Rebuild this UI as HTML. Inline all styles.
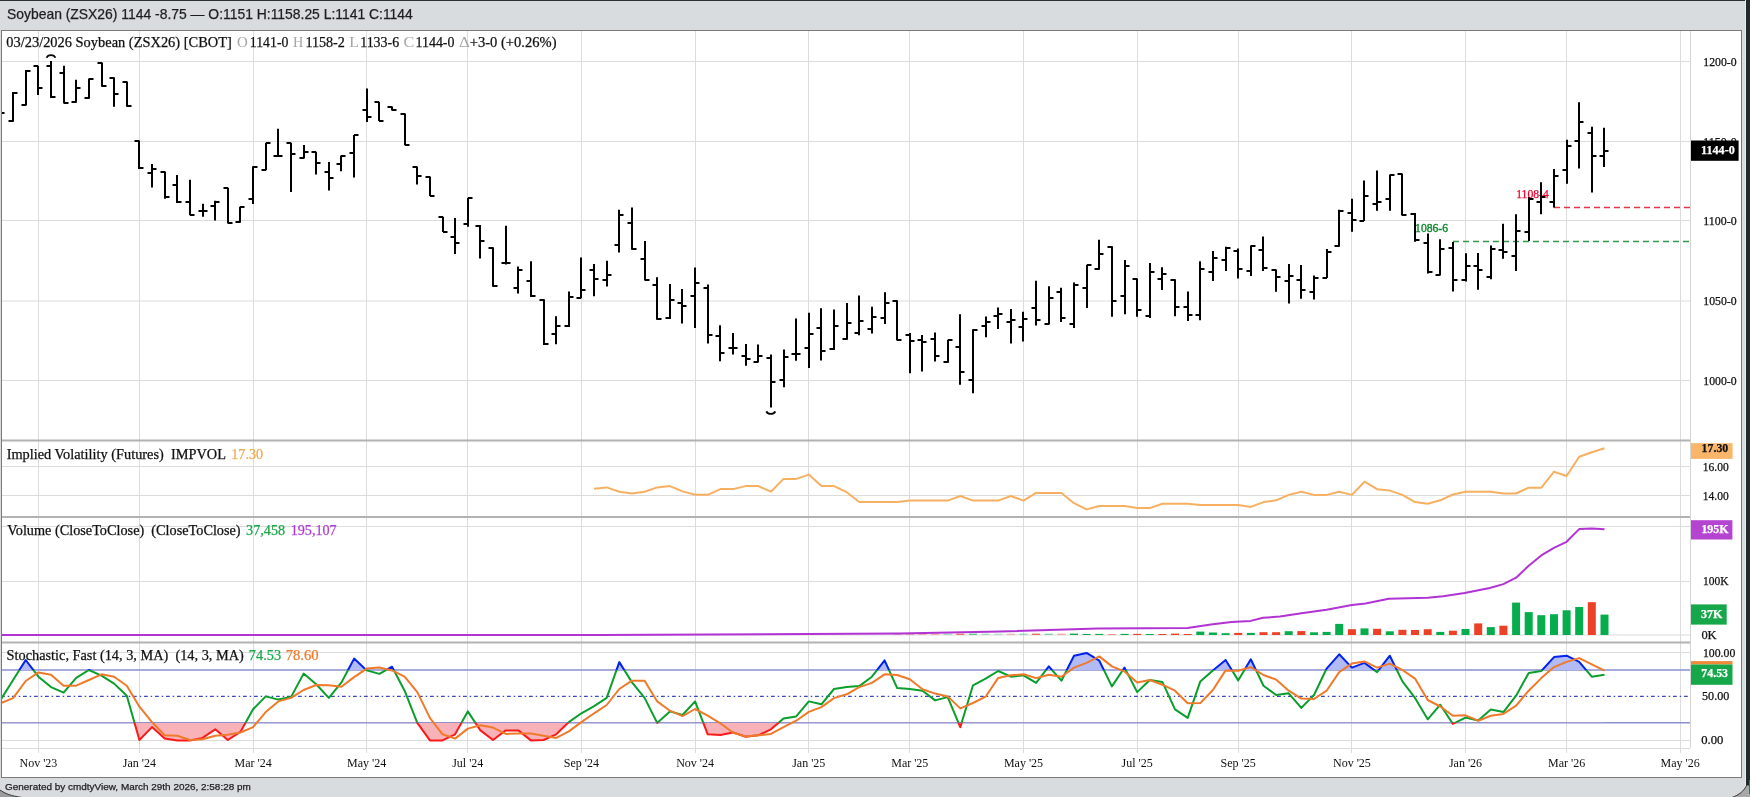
<!DOCTYPE html>
<html><head><meta charset="utf-8"><style>
html,body{margin:0;padding:0;width:1750px;height:797px;overflow:hidden;background:#d9dcdf}
svg{display:block;will-change:transform}
</style></head><body>
<svg width="1750" height="797" viewBox="0 0 1750 797">
<rect x="0" y="0" width="1750" height="797" fill="#d9dcdf"/>
<rect x="0" y="0" width="1750" height="1" fill="#2b3033"/>
<rect x="1745" y="0" width="1" height="797" fill="#e9ebed"/>
<rect x="1746" y="0" width="4" height="797" fill="#232a2d"/>
<path d="M0 790 C5 793.5 11 796 22 797.5 L0 797.5 Z" fill="#9c9c9c"/>
<path d="M0 790 C5 793.5 11 796 22 797.5" fill="none" stroke="#333" stroke-width="1"/>
<path d="M1746.5 785.5 C1744 791 1739 795 1732 797.5 L1750 797.5 L1750 785.5 Z" fill="#a8a8a8"/>
<path d="M1746.5 785.5 C1744 791 1739 795 1732 797.5" fill="none" stroke="#333" stroke-width="1"/>
<rect x="1749" y="780" width="1" height="14" fill="#1a8a3a"/>
<rect x="1.5" y="30.5" width="1740" height="747" fill="#ffffff" stroke="#7a7a7a" stroke-width="1"/>
<line x1="38.5" y1="31" x2="38.5" y2="753" stroke="#dcdcdc" stroke-width="1"/>
<line x1="139.5" y1="31" x2="139.5" y2="753" stroke="#dcdcdc" stroke-width="1"/>
<line x1="253.5" y1="31" x2="253.5" y2="753" stroke="#dcdcdc" stroke-width="1"/>
<line x1="366.5" y1="31" x2="366.5" y2="753" stroke="#dcdcdc" stroke-width="1"/>
<line x1="467.5" y1="31" x2="467.5" y2="753" stroke="#dcdcdc" stroke-width="1"/>
<line x1="581.5" y1="31" x2="581.5" y2="753" stroke="#dcdcdc" stroke-width="1"/>
<line x1="695.5" y1="31" x2="695.5" y2="753" stroke="#dcdcdc" stroke-width="1"/>
<line x1="808.5" y1="31" x2="808.5" y2="753" stroke="#dcdcdc" stroke-width="1"/>
<line x1="909.5" y1="31" x2="909.5" y2="753" stroke="#dcdcdc" stroke-width="1"/>
<line x1="1023.5" y1="31" x2="1023.5" y2="753" stroke="#dcdcdc" stroke-width="1"/>
<line x1="1137.5" y1="31" x2="1137.5" y2="753" stroke="#dcdcdc" stroke-width="1"/>
<line x1="1238.5" y1="31" x2="1238.5" y2="753" stroke="#dcdcdc" stroke-width="1"/>
<line x1="1351.5" y1="31" x2="1351.5" y2="753" stroke="#dcdcdc" stroke-width="1"/>
<line x1="1465.5" y1="31" x2="1465.5" y2="753" stroke="#dcdcdc" stroke-width="1"/>
<line x1="1566.5" y1="31" x2="1566.5" y2="753" stroke="#dcdcdc" stroke-width="1"/>
<line x1="1680.5" y1="31" x2="1680.5" y2="753" stroke="#dcdcdc" stroke-width="1"/>
<line x1="1690.5" y1="31" x2="1690.5" y2="748" stroke="#d4d4d4" stroke-width="1"/>
<line x1="2" y1="61.5" x2="1690" y2="61.5" stroke="#dcdcdc" stroke-width="1"/>
<line x1="2" y1="141.5" x2="1690" y2="141.5" stroke="#dcdcdc" stroke-width="1"/>
<line x1="2" y1="220.5" x2="1690" y2="220.5" stroke="#dcdcdc" stroke-width="1"/>
<line x1="2" y1="301" x2="1690" y2="301" stroke="#dcdcdc" stroke-width="1"/>
<line x1="2" y1="380.5" x2="1690" y2="380.5" stroke="#dcdcdc" stroke-width="1"/>
<line x1="2" y1="466.5" x2="1690" y2="466.5" stroke="#dcdcdc" stroke-width="1"/>
<line x1="2" y1="495.5" x2="1690" y2="495.5" stroke="#dcdcdc" stroke-width="1"/>
<line x1="2" y1="526.5" x2="1690" y2="526.5" stroke="#dcdcdc" stroke-width="1"/>
<line x1="2" y1="581.5" x2="1690" y2="581.5" stroke="#dcdcdc" stroke-width="1"/>
<line x1="2" y1="652.5" x2="1690" y2="652.5" stroke="#dcdcdc" stroke-width="1"/>
<line x1="2" y1="740.5" x2="1690" y2="740.5" stroke="#dcdcdc" stroke-width="1"/>
<line x1="2" y1="748.5" x2="1690" y2="748.5" stroke="#dcdcdc" stroke-width="1"/>
<line x1="2" y1="635" x2="1690" y2="635" stroke="#dcdcdc" stroke-width="1"/>
<line x1="2" y1="440.5" x2="1690" y2="440.5" stroke="#b2b2b2" stroke-width="2"/>
<line x1="2" y1="517" x2="1690" y2="517" stroke="#b2b2b2" stroke-width="2"/>
<line x1="2" y1="642.5" x2="1690" y2="642.5" stroke="#b2b2b2" stroke-width="2"/>
<line x1="1554" y1="207.5" x2="1690" y2="207.5" stroke="#e8344a" stroke-width="1.3" stroke-dasharray="6,4"/>
<line x1="1453" y1="241.5" x2="1690" y2="241.5" stroke="#2f9a4a" stroke-width="1.3" stroke-dasharray="6,4"/>
<text x="1516.2" y="197.9" font-family='"Liberation Serif", serif' font-size="11.6" fill="#f5002a" stroke="#f5002a" stroke-width="0.25" textLength="32.6" lengthAdjust="spacingAndGlyphs">1108-4</text>
<text x="1415.1" y="232.1" font-family='"Liberation Serif", serif' font-size="11.6" fill="#0b8a2b" stroke="#0b8a2b" stroke-width="0.35" textLength="32.9" lengthAdjust="spacingAndGlyphs">1086-6</text>
<g clip-path="url(#cp)"><path d="M0 105.5V118.5M-4.5 113H0M0 113H4.5M13 92.1V121.7M8.5 121H13M13 93H17.5M26 70.1V105.4M21.5 105H26M26 71H30.5M38 65.7V94.9M33.5 66H38M38 88H42.5M51 60.9V97.9M46.5 66H51M51 97H55.5M64 65.7V103.6M59.5 73H64M64 103H68.5M76 79.8V102.8M71.5 102H76M76 88H80.5M89 78.5V98.8M84.5 98H89M89 79H93.5M102 62.5V86.7M97.5 63H102M102 86H106.5M114 77.2V106.7M109.5 78H114M114 94H118.5M127 81.6V106.7M122.5 82H127M127 106H131.5M139 140.6V169.0M134.5 141H139M139 168H143.5M152 163.9V187.5M147.5 173H152M152 169H156.5M165 171.4V198.8M160.5 172H165M165 197H169.5M177 174.9V203.0M172.5 185H177M177 202H181.5M190 179.7V215.3M185.5 202H190M190 215H194.5M203 203.8V216.8M198.5 211H203M203 211H207.5M215 200.8V220.6M210.5 206H215M215 202H219.5M228 187.7V223.6M223.5 188H228M228 223H232.5M240 206.8V222.8M235.5 222H240M240 207H244.5M253 166.2V204.0M248.5 199H253M253 167H257.5M266 142.8V170.2M261.5 170H266M266 143H270.5M278 128.8V156.6M273.5 156H278M278 156H282.5M291 142.7V191.9M286.5 143H291M291 154H295.5M304 145.0V158.5M299.5 158H304M304 152H308.5M316 151.7V174.5M311.5 152H316M316 163H320.5M329 162.0V190.4M324.5 172H329M329 178H333.5M341 155.5V171.3M336.5 164H341M341 156H345.5M354 134.9V177.6M349.5 153H354M354 135H358.5M367 88.5V121.9M362.5 110H367M367 117H371.5M379 101.8V121.1M374.5 102H379M379 121H383.5M392 106.6V110.6M387.5 107H392M392 110H396.5M405 113.4V145.2M400.5 114H405M405 145H409.5M417 166.5V184.4M412.5 167H417M417 176H421.5M430 176.6V196.1M425.5 177H430M430 196H434.5M443 216.8V232.0M438.5 217H443M443 232H447.5M455 217.9V253.9M450.5 237H455M455 243H459.5M468 198.0V226.8M463.5 224H468M468 198H472.5M480 225.1V258.5M475.5 226H480M480 241H484.5M493 247.3V286.7M488.5 248H493M493 286H497.5M506 225.8V264.5M501.5 263H506M506 263H510.5M518 266.5V293.5M513.5 288H518M518 270H522.5M531 261.3V296.9M526.5 281H531M531 296H535.5M544 299.3V345.0M539.5 300H544M544 344H548.5M556 316.2V344.3M551.5 334H556M556 326H560.5M569 291.4V326.9M564.5 326H569M569 297H573.5M581 257.4V298.3M576.5 298H581M581 290H585.5M594 264.1V296.3M589.5 270H594M594 279H598.5M607 260.7V286.5M602.5 280H607M607 275H611.5M619 209.8V252.6M614.5 245H619M619 215H623.5M632 207.6V249.7M627.5 223H632M632 249H636.5M645 241.0V280.5M640.5 259H645M645 280H649.5M657 277.2V319.8M652.5 285H657M657 319H661.5M670 284.0V318.9M665.5 318H670M670 300H674.5M682 288.9V323.4M677.5 303H682M682 306H686.5M695 267.5V327.9M690.5 296H695M695 283H699.5M708 284.5V343.6M703.5 288H708M708 335H712.5M720 325.2V361.2M715.5 336H720M720 353H724.5M733 333.1V354.5M728.5 348H733M733 348H737.5M746 344.0V365.8M741.5 356H746M746 359H750.5M758 344.4V362.4M753.5 362H758M758 356H762.5M771 354.6V407.6M766.5 358H771M771 382H775.5M784 349.4V387.2M779.5 380H784M784 357H788.5M796 318.4V360.8M791.5 354H796M796 354H800.5M809 312.8V368.0M804.5 348H809M809 334H813.5M821 308.3V360.5M816.5 328H821M821 351H825.5M834 309.4V349.9M829.5 349H834M834 326H838.5M847 302.9V339.7M842.5 339H847M847 323H851.5M859 295.5V335.2M854.5 333H859M859 321H863.5M872 306.8V333.4M867.5 329H872M872 317H876.5M885 292.3V324.1M880.5 318H885M885 303H889.5M897 300.3V340.5M892.5 301H897M897 340H901.5M910 333.1V373.3M905.5 335H910M910 341H914.5M922 334.9V371.5M917.5 340H922M922 342H926.5M935 332.4V361.5M930.5 339H935M935 356H939.5M948 339.8V362.8M943.5 362H948M948 340H952.5M960 314.3V384.7M955.5 347H960M960 372H964.5M973 329.3V393.2M968.5 380H973M973 330H977.5M986 316.6V337.3M981.5 326H986M986 322H990.5M998 307.4V329.1M993.5 316H998M998 314H1002.5M1011 309.1V343.5M1006.5 322H1011M1011 320H1015.5M1023 311.8V341.4M1018.5 327H1023M1023 319H1027.5M1036 280.7V325.6M1031.5 308H1036M1036 320H1040.5M1049 286.3V324.5M1044.5 324H1049M1049 298H1053.5M1061 287.7V322.1M1056.5 292H1061M1061 318H1065.5M1074 282.4V328.1M1069.5 324H1074M1074 285H1078.5M1087 264.8V308.0M1082.5 288H1087M1087 265H1091.5M1099 239.7V269.7M1094.5 269H1099M1099 254H1103.5M1112 246.2V316.8M1107.5 247H1112M1112 301H1116.5M1125 260.1V314.3M1120.5 296H1125M1125 266H1129.5M1137 278.4V316.8M1132.5 279H1137M1137 310H1141.5M1150 263.1V318.0M1145.5 316H1150M1150 272H1154.5M1162 267.3V289.9M1157.5 279H1162M1162 274H1166.5M1175 279.3V316.3M1170.5 280H1175M1175 307H1179.5M1188 291.6V321.0M1183.5 307H1188M1188 315H1192.5M1200 261.3V320.3M1195.5 315H1200M1200 269H1204.5M1213 251.1V281.1M1208.5 272H1213M1213 258H1217.5M1226 246.7V271.1M1221.5 260H1226M1226 248H1230.5M1238 248.5V278.5M1233.5 251H1238M1238 269H1242.5M1251 245.5V275.9M1246.5 271H1251M1251 246H1255.5M1263 236.5V271.0M1258.5 250H1263M1263 268H1267.5M1276 269.6V291.8M1271.5 270H1276M1276 277H1280.5M1289 263.9V303.5M1284.5 281H1289M1289 276H1293.5M1301 264.9V298.7M1296.5 280H1301M1301 290H1305.5M1314 275.6V299.5M1309.5 292H1314M1314 278H1318.5M1327 248.9V278.0M1322.5 278H1327M1327 252H1331.5M1339 209.7V246.8M1334.5 246H1339M1339 211H1343.5M1352 198.7V231.8M1347.5 213H1352M1352 220H1356.5M1364 180.6V221.1M1359.5 221H1364M1364 196H1368.5M1377 170.5V210.7M1372.5 204H1377M1377 202H1381.5M1390 174.6V210.7M1385.5 199H1390M1390 175H1394.5M1402 173.6V215.5M1397.5 174H1402M1402 215H1406.5M1415 213.1V241.7M1410.5 214H1415M1415 240H1419.5M1428 233.6V273.6M1423.5 243H1428M1428 272H1432.5M1440 239.3V275.4M1435.5 275H1440M1440 249H1444.5M1453 241.9V291.6M1448.5 248H1453M1453 280H1457.5M1466 253.3V281.6M1461.5 280H1466M1466 266H1470.5M1478 253.0V289.8M1473.5 266H1478M1478 270H1482.5M1491 245.4V279.3M1486.5 277H1491M1491 249H1495.5M1503 223.8V258.7M1498.5 250H1503M1503 252H1507.5M1516 214.3V271.0M1511.5 256H1516M1516 231H1520.5M1529 197.1V241.1M1524.5 232H1529M1529 199H1533.5M1541 182.3V214.2M1536.5 202H1541M1541 197H1545.5M1554 169.1V207.6M1549.5 202H1554M1554 176H1558.5M1567 139.7V183.8M1562.5 170H1567M1567 146H1571.5M1579 102.2V168.4M1574.5 141H1579M1579 122H1583.5M1592 126.7V192.4M1587.5 133H1592M1592 156H1596.5M1604 127.8V167.1M1599.5 156H1604M1604 151H1608.5" stroke="#000" stroke-width="2" fill="none"/></g>
<defs><clipPath id="cp"><rect x="2" y="31" width="1688" height="409"/></clipPath></defs>
<path d="M46.6 57.8 A4.6 3.9 0 0 1 55.4 57.8" stroke="#000" stroke-width="1.8" fill="none"/>
<path d="M766.4 411.3 A4.6 3.6 0 0 0 775.2 411.3" stroke="#000" stroke-width="1.9" fill="none"/>
<polyline points="594.1,488.8 606.7,487.4 619.3,491.7 632.0,493.4 644.6,491.7 657.2,487.4 669.9,486.1 682.5,491.4 695.1,494.8 707.7,494.8 720.4,489.1 733.0,489.1 745.6,486.1 758.3,486.1 770.9,491.7 783.5,478.9 796.2,478.9 808.8,474.6 821.4,486.1 834.0,486.1 846.7,492.2 859.3,502.0 871.9,502.0 884.6,502.0 897.2,502.0 909.8,500.6 922.5,500.6 935.1,500.6 947.7,500.6 960.3,496.0 973.0,500.6 985.6,500.6 998.2,500.6 1010.9,496.0 1023.5,500.6 1036.1,492.9 1048.8,492.9 1061.4,492.9 1074.0,503.2 1086.6,509.4 1099.3,506.0 1111.9,506.0 1124.5,506.0 1137.2,507.9 1149.8,508.1 1162.4,503.8 1175.0,503.8 1187.7,503.8 1200.3,505.1 1212.9,505.1 1225.6,505.1 1238.2,505.1 1250.8,506.9 1263.5,502.1 1276.1,500.3 1288.7,494.9 1301.3,491.8 1314.0,494.9 1326.6,494.9 1339.2,491.8 1351.9,494.9 1364.5,481.7 1377.1,489.2 1389.8,490.6 1402.4,494.9 1415.0,502.1 1427.7,503.8 1440.3,500.3 1452.9,494.5 1465.5,491.8 1478.2,491.8 1490.8,491.8 1503.4,493.5 1516.1,493.5 1528.7,487.7 1541.3,487.7 1554.0,471.7 1566.6,476.0 1579.2,456.8 1591.8,452.3 1604.5,448.2" fill="none" stroke="#f7b062" stroke-width="2" stroke-linejoin="round"/>
<rect x="1070.0" y="633.6" width="8" height="1.4" fill="#06ad4c"/>
<rect x="1082.6" y="634.0" width="8" height="1.0" fill="#06ad4c"/>
<rect x="1095.3" y="633.9" width="8" height="1.1" fill="#06ad4c"/>
<rect x="1107.9" y="634.5" width="8" height="0.5" fill="#ec4127"/>
<rect x="1120.5" y="633.9" width="8" height="1.1" fill="#06ad4c"/>
<rect x="1133.2" y="633.9" width="8" height="1.1" fill="#ec4127"/>
<rect x="1145.8" y="634.0" width="8" height="1.0" fill="#06ad4c"/>
<rect x="1158.4" y="634.0" width="8" height="1.0" fill="#ec4127"/>
<rect x="1171.0" y="633.6" width="8" height="1.4" fill="#ec4127"/>
<rect x="1183.7" y="634.0" width="8" height="1.0" fill="#ec4127"/>
<rect x="1196.3" y="631.6" width="8" height="3.4" fill="#06ad4c"/>
<rect x="1208.9" y="632.5" width="8" height="2.5" fill="#06ad4c"/>
<rect x="1221.6" y="633.2" width="8" height="1.8" fill="#06ad4c"/>
<rect x="1234.2" y="632.9" width="8" height="2.1" fill="#ec4127"/>
<rect x="1246.8" y="632.9" width="8" height="2.1" fill="#06ad4c"/>
<rect x="1259.5" y="632.2" width="8" height="2.8" fill="#ec4127"/>
<rect x="1272.1" y="632.2" width="8" height="2.8" fill="#ec4127"/>
<rect x="1284.7" y="631.2" width="8" height="3.8" fill="#06ad4c"/>
<rect x="1297.3" y="631.1" width="8" height="3.9" fill="#ec4127"/>
<rect x="1310.0" y="632.3" width="8" height="2.7" fill="#06ad4c"/>
<rect x="1322.6" y="631.9" width="8" height="3.1" fill="#06ad4c"/>
<rect x="1335.2" y="623.9" width="8" height="11.1" fill="#06ad4c"/>
<rect x="1347.9" y="629.2" width="8" height="5.8" fill="#ec4127"/>
<rect x="1360.5" y="628.4" width="8" height="6.6" fill="#06ad4c"/>
<rect x="1373.1" y="628.8" width="8" height="6.2" fill="#ec4127"/>
<rect x="1385.8" y="631.3" width="8" height="3.7" fill="#06ad4c"/>
<rect x="1398.4" y="629.8" width="8" height="5.2" fill="#ec4127"/>
<rect x="1411.0" y="630.0" width="8" height="5.0" fill="#ec4127"/>
<rect x="1423.7" y="629.2" width="8" height="5.8" fill="#ec4127"/>
<rect x="1436.3" y="631.9" width="8" height="3.1" fill="#06ad4c"/>
<rect x="1448.9" y="630.7" width="8" height="4.3" fill="#ec4127"/>
<rect x="1461.5" y="629.0" width="8" height="6.0" fill="#06ad4c"/>
<rect x="1474.2" y="623.4" width="8" height="11.6" fill="#ec4127"/>
<rect x="1486.8" y="627.1" width="8" height="7.9" fill="#06ad4c"/>
<rect x="1499.4" y="625.7" width="8" height="9.3" fill="#ec4127"/>
<rect x="1512.1" y="602.6" width="8" height="32.4" fill="#06ad4c"/>
<rect x="1524.7" y="612.1" width="8" height="22.9" fill="#06ad4c"/>
<rect x="1537.3" y="615.2" width="8" height="19.8" fill="#06ad4c"/>
<rect x="1550.0" y="614.2" width="8" height="20.8" fill="#06ad4c"/>
<rect x="1562.6" y="610.3" width="8" height="24.7" fill="#06ad4c"/>
<rect x="1575.2" y="607.0" width="8" height="28.0" fill="#06ad4c"/>
<rect x="1587.8" y="602.2" width="8" height="32.8" fill="#ec4127"/>
<rect x="1600.5" y="614.6" width="8" height="20.4" fill="#06ad4c"/>
<rect x="893.2" y="633.6" width="8" height="1.4" fill="#ec4127" fill-opacity="0.3"/>
<rect x="905.8" y="633.6" width="8" height="1.4" fill="#ec4127" fill-opacity="0.35"/>
<rect x="918.5" y="633.6" width="8" height="1.4" fill="#ec4127" fill-opacity="0.35"/>
<rect x="931.1" y="633.6" width="8" height="1.4" fill="#ec4127" fill-opacity="0.35"/>
<rect x="943.7" y="633.6" width="8" height="1.4" fill="#06ad4c" fill-opacity="0.3"/>
<rect x="956.3" y="633.6" width="8" height="1.4" fill="#ec4127" fill-opacity="0.7"/>
<rect x="969.0" y="633.6" width="8" height="1.4" fill="#06ad4c" fill-opacity="0.6"/>
<rect x="981.6" y="633.6" width="8" height="1.4" fill="#06ad4c" fill-opacity="0.3"/>
<rect x="994.2" y="633.6" width="8" height="1.4" fill="#06ad4c" fill-opacity="0.25"/>
<rect x="1006.9" y="633.6" width="8" height="1.4" fill="#ec4127" fill-opacity="0.3"/>
<rect x="1019.5" y="633.6" width="8" height="1.4" fill="#06ad4c" fill-opacity="0.35"/>
<rect x="1032.1" y="633.6" width="8" height="1.4" fill="#ec4127" fill-opacity="0.75"/>
<rect x="1044.8" y="633.6" width="8" height="1.4" fill="#06ad4c" fill-opacity="0.45"/>
<rect x="1057.4" y="633.6" width="8" height="1.4" fill="#ec4127" fill-opacity="0.4"/>
<polyline points="2.0,635.0 600.0,634.9 900.0,633.5 1000.0,631.5 1098.0,628.4 1187.6,628.1 1210.9,624.4 1231.5,622.0 1250.7,620.9 1263.0,617.8 1280.0,616.6 1301.4,613.3 1326.6,609.8 1351.9,604.9 1365.5,603.5 1388.8,598.7 1427.7,597.7 1443.2,596.2 1464.6,592.9 1489.8,588.0 1503.4,584.1 1516.1,577.7 1528.7,565.7 1541.3,555.4 1553.9,547.8 1566.6,541.8 1579.2,529.1 1591.8,528.4 1604.5,529.3" fill="none" stroke="#b233d3" stroke-width="2" stroke-linejoin="round"/>
<line x1="2" y1="670.0" x2="1690" y2="670.0" stroke="#8a8fd0" stroke-width="1.5"/>
<line x1="2" y1="722.8" x2="1690" y2="722.8" stroke="#8a8fd0" stroke-width="1.5"/>
<line x1="2" y1="696.4" x2="1690" y2="696.4" stroke="#3c4bbb" stroke-width="1.4" stroke-dasharray="3.8,2.9,1.5,2.8" stroke-dashoffset="1"/>
<defs><clipPath id="cTop"><rect x="2" y="640" width="1688" height="30.0"/></clipPath><clipPath id="cBot"><rect x="2" y="722.8" width="1688" height="27.200000000000045"/></clipPath><clipPath id="cMid"><rect x="2" y="670.0" width="1688" height="52.799999999999955"/></clipPath><clipPath id="cSt"><rect x="2" y="643" width="1688" height="110"/></clipPath></defs>
<g clip-path="url(#cSt)">
<polygon points="0.5,670.0 0.5,700.0 13.1,680.0 25.7,660.0 38.4,676.7 51.0,687.1 63.6,692.6 76.2,677.9 88.9,670.0 101.5,675.7 114.1,683.6 126.8,695.7 139.4,740.0 152.0,727.1 164.7,738.6 177.3,740.4 189.9,740.4 202.5,737.9 215.2,729.3 227.8,740.0 240.4,731.9 253.1,709.3 265.7,696.4 278.3,699.6 291.0,697.1 303.6,673.6 316.2,684.3 328.8,697.9 341.5,682.4 354.1,658.6 366.7,670.4 379.4,673.9 392.0,666.7 404.6,690.7 417.3,722.9 429.9,740.4 442.5,740.4 455.1,734.3 467.8,711.4 480.4,730.4 493.0,740.0 505.7,730.4 518.3,730.4 530.9,740.4 543.6,740.0 556.2,734.3 568.8,722.1 581.4,713.3 594.1,706.1 606.7,697.9 619.3,662.1 632.0,682.4 644.6,697.9 657.2,722.9 669.9,711.4 682.5,715.0 695.1,701.4 707.7,734.3 720.4,735.0 733.0,732.4 745.6,736.7 758.3,735.3 770.9,729.3 783.5,718.6 796.2,716.4 808.8,701.4 821.4,704.3 834.0,689.0 846.7,687.1 859.3,686.1 871.9,676.7 884.6,660.4 897.2,688.1 909.8,689.0 922.5,690.7 935.1,700.4 947.7,697.1 960.3,727.1 973.0,685.3 985.6,678.6 998.2,671.0 1010.9,676.7 1023.5,675.3 1036.1,682.9 1048.8,666.4 1061.4,680.7 1074.0,655.7 1086.6,652.9 1099.3,660.7 1111.9,686.4 1124.5,667.6 1137.2,692.1 1149.8,680.0 1162.4,681.9 1175.0,709.3 1187.7,717.9 1200.3,681.4 1212.9,670.4 1225.6,660.0 1238.2,680.4 1250.8,659.3 1263.5,685.7 1276.1,695.0 1288.7,693.3 1301.3,707.9 1314.0,695.0 1326.6,668.6 1339.2,654.3 1351.9,667.6 1364.5,662.9 1377.1,672.1 1389.8,655.7 1402.4,681.4 1415.0,697.9 1427.7,719.3 1440.3,704.7 1452.9,723.9 1465.5,717.6 1478.2,720.4 1490.8,709.6 1503.4,712.1 1516.1,695.7 1528.7,672.9 1541.3,671.0 1554.0,657.1 1566.6,655.7 1579.2,661.9 1591.8,676.7 1604.5,674.7 1604.5,670.0" fill="#b3bbf6" clip-path="url(#cTop)"/>
<polygon points="0.5,722.8 0.5,700.0 13.1,680.0 25.7,660.0 38.4,676.7 51.0,687.1 63.6,692.6 76.2,677.9 88.9,670.0 101.5,675.7 114.1,683.6 126.8,695.7 139.4,740.0 152.0,727.1 164.7,738.6 177.3,740.4 189.9,740.4 202.5,737.9 215.2,729.3 227.8,740.0 240.4,731.9 253.1,709.3 265.7,696.4 278.3,699.6 291.0,697.1 303.6,673.6 316.2,684.3 328.8,697.9 341.5,682.4 354.1,658.6 366.7,670.4 379.4,673.9 392.0,666.7 404.6,690.7 417.3,722.9 429.9,740.4 442.5,740.4 455.1,734.3 467.8,711.4 480.4,730.4 493.0,740.0 505.7,730.4 518.3,730.4 530.9,740.4 543.6,740.0 556.2,734.3 568.8,722.1 581.4,713.3 594.1,706.1 606.7,697.9 619.3,662.1 632.0,682.4 644.6,697.9 657.2,722.9 669.9,711.4 682.5,715.0 695.1,701.4 707.7,734.3 720.4,735.0 733.0,732.4 745.6,736.7 758.3,735.3 770.9,729.3 783.5,718.6 796.2,716.4 808.8,701.4 821.4,704.3 834.0,689.0 846.7,687.1 859.3,686.1 871.9,676.7 884.6,660.4 897.2,688.1 909.8,689.0 922.5,690.7 935.1,700.4 947.7,697.1 960.3,727.1 973.0,685.3 985.6,678.6 998.2,671.0 1010.9,676.7 1023.5,675.3 1036.1,682.9 1048.8,666.4 1061.4,680.7 1074.0,655.7 1086.6,652.9 1099.3,660.7 1111.9,686.4 1124.5,667.6 1137.2,692.1 1149.8,680.0 1162.4,681.9 1175.0,709.3 1187.7,717.9 1200.3,681.4 1212.9,670.4 1225.6,660.0 1238.2,680.4 1250.8,659.3 1263.5,685.7 1276.1,695.0 1288.7,693.3 1301.3,707.9 1314.0,695.0 1326.6,668.6 1339.2,654.3 1351.9,667.6 1364.5,662.9 1377.1,672.1 1389.8,655.7 1402.4,681.4 1415.0,697.9 1427.7,719.3 1440.3,704.7 1452.9,723.9 1465.5,717.6 1478.2,720.4 1490.8,709.6 1503.4,712.1 1516.1,695.7 1528.7,672.9 1541.3,671.0 1554.0,657.1 1566.6,655.7 1579.2,661.9 1591.8,676.7 1604.5,674.7 1604.5,722.8" fill="#f9b3b8" clip-path="url(#cBot)"/>
<polyline points="0.5,700.0 13.1,680.0 25.7,660.0 38.4,676.7 51.0,687.1 63.6,692.6 76.2,677.9 88.9,670.0 101.5,675.7 114.1,683.6 126.8,695.7 139.4,740.0 152.0,727.1 164.7,738.6 177.3,740.4 189.9,740.4 202.5,737.9 215.2,729.3 227.8,740.0 240.4,731.9 253.1,709.3 265.7,696.4 278.3,699.6 291.0,697.1 303.6,673.6 316.2,684.3 328.8,697.9 341.5,682.4 354.1,658.6 366.7,670.4 379.4,673.9 392.0,666.7 404.6,690.7 417.3,722.9 429.9,740.4 442.5,740.4 455.1,734.3 467.8,711.4 480.4,730.4 493.0,740.0 505.7,730.4 518.3,730.4 530.9,740.4 543.6,740.0 556.2,734.3 568.8,722.1 581.4,713.3 594.1,706.1 606.7,697.9 619.3,662.1 632.0,682.4 644.6,697.9 657.2,722.9 669.9,711.4 682.5,715.0 695.1,701.4 707.7,734.3 720.4,735.0 733.0,732.4 745.6,736.7 758.3,735.3 770.9,729.3 783.5,718.6 796.2,716.4 808.8,701.4 821.4,704.3 834.0,689.0 846.7,687.1 859.3,686.1 871.9,676.7 884.6,660.4 897.2,688.1 909.8,689.0 922.5,690.7 935.1,700.4 947.7,697.1 960.3,727.1 973.0,685.3 985.6,678.6 998.2,671.0 1010.9,676.7 1023.5,675.3 1036.1,682.9 1048.8,666.4 1061.4,680.7 1074.0,655.7 1086.6,652.9 1099.3,660.7 1111.9,686.4 1124.5,667.6 1137.2,692.1 1149.8,680.0 1162.4,681.9 1175.0,709.3 1187.7,717.9 1200.3,681.4 1212.9,670.4 1225.6,660.0 1238.2,680.4 1250.8,659.3 1263.5,685.7 1276.1,695.0 1288.7,693.3 1301.3,707.9 1314.0,695.0 1326.6,668.6 1339.2,654.3 1351.9,667.6 1364.5,662.9 1377.1,672.1 1389.8,655.7 1402.4,681.4 1415.0,697.9 1427.7,719.3 1440.3,704.7 1452.9,723.9 1465.5,717.6 1478.2,720.4 1490.8,709.6 1503.4,712.1 1516.1,695.7 1528.7,672.9 1541.3,671.0 1554.0,657.1 1566.6,655.7 1579.2,661.9 1591.8,676.7 1604.5,674.7" fill="none" stroke="#0a9f2c" stroke-width="2" stroke-linejoin="round" clip-path="url(#cMid)"/>
<polyline points="0.5,700.0 13.1,680.0 25.7,660.0 38.4,676.7 51.0,687.1 63.6,692.6 76.2,677.9 88.9,670.0 101.5,675.7 114.1,683.6 126.8,695.7 139.4,740.0 152.0,727.1 164.7,738.6 177.3,740.4 189.9,740.4 202.5,737.9 215.2,729.3 227.8,740.0 240.4,731.9 253.1,709.3 265.7,696.4 278.3,699.6 291.0,697.1 303.6,673.6 316.2,684.3 328.8,697.9 341.5,682.4 354.1,658.6 366.7,670.4 379.4,673.9 392.0,666.7 404.6,690.7 417.3,722.9 429.9,740.4 442.5,740.4 455.1,734.3 467.8,711.4 480.4,730.4 493.0,740.0 505.7,730.4 518.3,730.4 530.9,740.4 543.6,740.0 556.2,734.3 568.8,722.1 581.4,713.3 594.1,706.1 606.7,697.9 619.3,662.1 632.0,682.4 644.6,697.9 657.2,722.9 669.9,711.4 682.5,715.0 695.1,701.4 707.7,734.3 720.4,735.0 733.0,732.4 745.6,736.7 758.3,735.3 770.9,729.3 783.5,718.6 796.2,716.4 808.8,701.4 821.4,704.3 834.0,689.0 846.7,687.1 859.3,686.1 871.9,676.7 884.6,660.4 897.2,688.1 909.8,689.0 922.5,690.7 935.1,700.4 947.7,697.1 960.3,727.1 973.0,685.3 985.6,678.6 998.2,671.0 1010.9,676.7 1023.5,675.3 1036.1,682.9 1048.8,666.4 1061.4,680.7 1074.0,655.7 1086.6,652.9 1099.3,660.7 1111.9,686.4 1124.5,667.6 1137.2,692.1 1149.8,680.0 1162.4,681.9 1175.0,709.3 1187.7,717.9 1200.3,681.4 1212.9,670.4 1225.6,660.0 1238.2,680.4 1250.8,659.3 1263.5,685.7 1276.1,695.0 1288.7,693.3 1301.3,707.9 1314.0,695.0 1326.6,668.6 1339.2,654.3 1351.9,667.6 1364.5,662.9 1377.1,672.1 1389.8,655.7 1402.4,681.4 1415.0,697.9 1427.7,719.3 1440.3,704.7 1452.9,723.9 1465.5,717.6 1478.2,720.4 1490.8,709.6 1503.4,712.1 1516.1,695.7 1528.7,672.9 1541.3,671.0 1554.0,657.1 1566.6,655.7 1579.2,661.9 1591.8,676.7 1604.5,674.7" fill="none" stroke="#0022ee" stroke-width="2" stroke-linejoin="round" clip-path="url(#cTop)"/>
<polyline points="0.5,700.0 13.1,680.0 25.7,660.0 38.4,676.7 51.0,687.1 63.6,692.6 76.2,677.9 88.9,670.0 101.5,675.7 114.1,683.6 126.8,695.7 139.4,740.0 152.0,727.1 164.7,738.6 177.3,740.4 189.9,740.4 202.5,737.9 215.2,729.3 227.8,740.0 240.4,731.9 253.1,709.3 265.7,696.4 278.3,699.6 291.0,697.1 303.6,673.6 316.2,684.3 328.8,697.9 341.5,682.4 354.1,658.6 366.7,670.4 379.4,673.9 392.0,666.7 404.6,690.7 417.3,722.9 429.9,740.4 442.5,740.4 455.1,734.3 467.8,711.4 480.4,730.4 493.0,740.0 505.7,730.4 518.3,730.4 530.9,740.4 543.6,740.0 556.2,734.3 568.8,722.1 581.4,713.3 594.1,706.1 606.7,697.9 619.3,662.1 632.0,682.4 644.6,697.9 657.2,722.9 669.9,711.4 682.5,715.0 695.1,701.4 707.7,734.3 720.4,735.0 733.0,732.4 745.6,736.7 758.3,735.3 770.9,729.3 783.5,718.6 796.2,716.4 808.8,701.4 821.4,704.3 834.0,689.0 846.7,687.1 859.3,686.1 871.9,676.7 884.6,660.4 897.2,688.1 909.8,689.0 922.5,690.7 935.1,700.4 947.7,697.1 960.3,727.1 973.0,685.3 985.6,678.6 998.2,671.0 1010.9,676.7 1023.5,675.3 1036.1,682.9 1048.8,666.4 1061.4,680.7 1074.0,655.7 1086.6,652.9 1099.3,660.7 1111.9,686.4 1124.5,667.6 1137.2,692.1 1149.8,680.0 1162.4,681.9 1175.0,709.3 1187.7,717.9 1200.3,681.4 1212.9,670.4 1225.6,660.0 1238.2,680.4 1250.8,659.3 1263.5,685.7 1276.1,695.0 1288.7,693.3 1301.3,707.9 1314.0,695.0 1326.6,668.6 1339.2,654.3 1351.9,667.6 1364.5,662.9 1377.1,672.1 1389.8,655.7 1402.4,681.4 1415.0,697.9 1427.7,719.3 1440.3,704.7 1452.9,723.9 1465.5,717.6 1478.2,720.4 1490.8,709.6 1503.4,712.1 1516.1,695.7 1528.7,672.9 1541.3,671.0 1554.0,657.1 1566.6,655.7 1579.2,661.9 1591.8,676.7 1604.5,674.7" fill="none" stroke="#fa1a1a" stroke-width="2" stroke-linejoin="round" clip-path="url(#cBot)"/>
<polyline points="0.5,703.3 13.1,698.1 25.7,681.0 38.4,672.4 51.0,674.7 63.6,685.7 76.2,685.7 88.9,680.0 101.5,674.3 114.1,676.7 126.8,685.7 139.4,706.7 152.0,722.1 164.7,735.3 177.3,735.7 189.9,740.0 202.5,739.3 215.2,735.7 227.8,734.7 240.4,732.5 253.1,727.1 265.7,712.1 278.3,701.4 291.0,697.9 303.6,690.0 316.2,685.0 328.8,685.3 341.5,686.7 354.1,677.1 366.7,668.6 379.4,667.6 392.0,670.4 404.6,676.7 417.3,692.1 429.9,717.9 442.5,734.3 455.1,738.6 467.8,728.6 480.4,725.3 493.0,727.6 505.7,733.9 518.3,733.6 530.9,733.6 543.6,735.7 556.2,737.9 568.8,731.4 581.4,722.1 594.1,713.3 606.7,705.0 619.3,689.0 632.0,680.7 644.6,680.7 657.2,701.4 669.9,710.7 682.5,716.1 695.1,709.0 707.7,715.7 720.4,723.3 733.0,732.8 745.6,736.4 758.3,735.3 770.9,733.9 783.5,727.1 796.2,720.7 808.8,711.9 821.4,707.1 834.0,698.1 846.7,694.3 859.3,687.1 871.9,682.9 884.6,674.3 897.2,675.0 909.8,679.3 922.5,689.3 935.1,693.6 947.7,696.4 960.3,708.4 973.0,703.0 985.6,696.7 998.2,677.9 1010.9,675.3 1023.5,674.3 1036.1,678.1 1048.8,674.7 1061.4,676.7 1074.0,667.6 1086.6,662.9 1099.3,656.4 1111.9,666.4 1124.5,671.4 1137.2,682.4 1149.8,680.0 1162.4,684.7 1175.0,690.7 1187.7,703.3 1200.3,703.1 1212.9,690.0 1225.6,670.4 1238.2,670.7 1250.8,667.1 1263.5,675.0 1276.1,679.6 1288.7,690.7 1301.3,698.6 1314.0,699.0 1326.6,690.7 1339.2,672.1 1351.9,663.6 1364.5,661.4 1377.1,667.6 1389.8,663.6 1402.4,670.0 1415.0,678.6 1427.7,700.0 1440.3,706.5 1452.9,715.7 1465.5,715.3 1478.2,720.7 1490.8,715.7 1503.4,713.9 1516.1,705.7 1528.7,690.7 1541.3,678.1 1554.0,667.1 1566.6,661.9 1579.2,658.1 1591.8,664.3 1604.5,670.7" fill="none" stroke="#ef7a2a" stroke-width="2" stroke-linejoin="round"/>
</g>
<text x="7.0" y="18.9" font-family='"Liberation Sans", sans-serif' font-size="13.9" fill="#1e1e1e" stroke="#1e1e1e" stroke-width="0.25" textLength="405.8" lengthAdjust="spacingAndGlyphs" xml:space="preserve">Soybean (ZSX26) 1144 -8.75 — O:1151 H:1158.25 L:1141 C:1144</text>
<text x="6.3" y="46.9" font-family='"Liberation Serif", serif' font-size="14.6" fill="#111" stroke="#111" stroke-width="0.25" textLength="225.5" lengthAdjust="spacingAndGlyphs" xml:space="preserve">03/23/2026 Soybean (ZSX26) [CBOT]</text>
<text x="236.9" y="46.9" font-family='"Liberation Serif", serif' font-size="14.6" fill="#a4a4a4" textLength="10.8" lengthAdjust="spacingAndGlyphs" xml:space="preserve">O</text>
<text x="249.8" y="46.9" font-family='"Liberation Serif", serif' font-size="14.6" fill="#111" stroke="#111" stroke-width="0.25" textLength="38.6" lengthAdjust="spacingAndGlyphs" xml:space="preserve">1141-0</text>
<text x="293.0" y="46.9" font-family='"Liberation Serif", serif' font-size="14.6" fill="#a4a4a4" textLength="10.3" lengthAdjust="spacingAndGlyphs" xml:space="preserve">H</text>
<text x="305.4" y="46.9" font-family='"Liberation Serif", serif' font-size="14.6" fill="#111" stroke="#111" stroke-width="0.25" textLength="39.5" lengthAdjust="spacingAndGlyphs" xml:space="preserve">1158-2</text>
<text x="349.3" y="46.9" font-family='"Liberation Serif", serif' font-size="14.6" fill="#a4a4a4" textLength="9.7" lengthAdjust="spacingAndGlyphs" xml:space="preserve">L</text>
<text x="360.2" y="46.9" font-family='"Liberation Serif", serif' font-size="14.6" fill="#111" stroke="#111" stroke-width="0.25" textLength="39.0" lengthAdjust="spacingAndGlyphs" xml:space="preserve">1133-6</text>
<text x="403.6" y="46.9" font-family='"Liberation Serif", serif' font-size="14.6" fill="#a4a4a4" textLength="10.8" lengthAdjust="spacingAndGlyphs" xml:space="preserve">C</text>
<text x="415.5" y="46.9" font-family='"Liberation Serif", serif' font-size="14.6" fill="#111" stroke="#111" stroke-width="0.25" textLength="39.0" lengthAdjust="spacingAndGlyphs" xml:space="preserve">1144-0</text>
<text x="459.0" y="46.9" font-family='"Liberation Serif", serif' font-size="14.6" fill="#a4a4a4" textLength="10.8" lengthAdjust="spacingAndGlyphs" xml:space="preserve">Δ</text>
<text x="469.8" y="46.9" font-family='"Liberation Serif", serif' font-size="14.6" fill="#111" stroke="#111" stroke-width="0.25" textLength="86.7" lengthAdjust="spacingAndGlyphs" xml:space="preserve">+3-0 (+0.26%)</text>
<text x="1703.3" y="65.7" font-family='"Liberation Serif", serif' font-size="11.8" fill="#111" stroke="#111" stroke-width="0.25" textLength="33.3" lengthAdjust="spacingAndGlyphs" xml:space="preserve">1200-0</text>
<text x="1703.3" y="145.7" font-family='"Liberation Serif", serif' font-size="11.8" fill="#111" stroke="#111" stroke-width="0.25" textLength="33.3" lengthAdjust="spacingAndGlyphs" xml:space="preserve">1150-0</text>
<text x="1703.3" y="224.7" font-family='"Liberation Serif", serif' font-size="11.8" fill="#111" stroke="#111" stroke-width="0.25" textLength="33.3" lengthAdjust="spacingAndGlyphs" xml:space="preserve">1100-0</text>
<text x="1703.3" y="304.7" font-family='"Liberation Serif", serif' font-size="11.8" fill="#111" stroke="#111" stroke-width="0.25" textLength="33.3" lengthAdjust="spacingAndGlyphs" xml:space="preserve">1050-0</text>
<text x="1703.3" y="384.7" font-family='"Liberation Serif", serif' font-size="11.8" fill="#111" stroke="#111" stroke-width="0.25" textLength="33.3" lengthAdjust="spacingAndGlyphs" xml:space="preserve">1000-0</text>
<rect x="1691" y="140.5" width="47.6" height="20.3" fill="#000"/>
<text x="1701.1" y="153.9" font-family='"Liberation Serif", serif' font-size="12" fill="#fff" stroke="#fff" stroke-width="0.25" font-weight="bold" textLength="33.7" lengthAdjust="spacingAndGlyphs" xml:space="preserve">1144-0</text>
<text x="6.7" y="458.9" font-family='"Liberation Serif", serif' font-size="14.4" fill="#111" stroke="#111" stroke-width="0.25" textLength="219.2" lengthAdjust="spacingAndGlyphs" xml:space="preserve">Implied Volatility (Futures)  IMPVOL</text>
<text x="231.3" y="458.9" font-family='"Liberation Serif", serif' font-size="14.4" fill="#f5a84e" stroke="#f5a84e" stroke-width="0.25" textLength="31.8" lengthAdjust="spacingAndGlyphs" xml:space="preserve">17.30</text>
<rect x="1691" y="443.2" width="41.6" height="15.7" fill="#f9b66a"/>
<text x="1701.6" y="451.5" font-family='"Liberation Serif", serif' font-size="12" fill="#111" stroke="#111" stroke-width="0.25" font-weight="bold" textLength="26.7" lengthAdjust="spacingAndGlyphs" xml:space="preserve">17.30</text>
<text x="1702.8" y="470.9" font-family='"Liberation Serif", serif' font-size="11.8" fill="#111" stroke="#111" stroke-width="0.25" textLength="25.9" lengthAdjust="spacingAndGlyphs" xml:space="preserve">16.00</text>
<text x="1702.8" y="499.9" font-family='"Liberation Serif", serif' font-size="11.8" fill="#111" stroke="#111" stroke-width="0.25" textLength="25.9" lengthAdjust="spacingAndGlyphs" xml:space="preserve">14.00</text>
<text x="7.3" y="535.1" font-family='"Liberation Serif", serif' font-size="14.4" fill="#111" stroke="#111" stroke-width="0.25" textLength="233.3" lengthAdjust="spacingAndGlyphs" xml:space="preserve">Volume (CloseToClose)  (CloseToClose)</text>
<text x="246.1" y="535.1" font-family='"Liberation Serif", serif' font-size="14.4" fill="#18a848" stroke="#18a848" stroke-width="0.25" textLength="39.0" lengthAdjust="spacingAndGlyphs" xml:space="preserve">37,458</text>
<text x="290.7" y="535.1" font-family='"Liberation Serif", serif' font-size="14.4" fill="#b03cd8" stroke="#b03cd8" stroke-width="0.25" textLength="46.0" lengthAdjust="spacingAndGlyphs" xml:space="preserve">195,107</text>
<rect x="1691" y="520.2" width="41.4" height="19.3" fill="#b545d0"/>
<text x="1701.4" y="532.6" font-family='"Liberation Serif", serif' font-size="12" fill="#fff" stroke="#fff" stroke-width="0.25" font-weight="bold" textLength="27.1" lengthAdjust="spacingAndGlyphs" xml:space="preserve">195K</text>
<text x="1703.0" y="585.1" font-family='"Liberation Serif", serif' font-size="11.8" fill="#111" stroke="#111" stroke-width="0.25" textLength="25.5" lengthAdjust="spacingAndGlyphs" xml:space="preserve">100K</text>
<rect x="1691" y="604.4" width="35.7" height="20.2" fill="#16a74a"/>
<text x="1700.9" y="618.1" font-family='"Liberation Serif", serif' font-size="12" fill="#fff" stroke="#fff" stroke-width="0.25" font-weight="bold" textLength="21.5" lengthAdjust="spacingAndGlyphs" xml:space="preserve">37K</text>
<text x="1701.4" y="639.0" font-family='"Liberation Serif", serif' font-size="11.8" fill="#111" stroke="#111" stroke-width="0.25" textLength="15.2" lengthAdjust="spacingAndGlyphs" xml:space="preserve">0K</text>
<text x="6.6" y="660.4" font-family='"Liberation Serif", serif' font-size="14.4" fill="#111" stroke="#111" stroke-width="0.25" textLength="237.2" lengthAdjust="spacingAndGlyphs" xml:space="preserve">Stochastic, Fast (14, 3, MA)  (14, 3, MA)</text>
<text x="248.8" y="660.4" font-family='"Liberation Serif", serif' font-size="14.4" fill="#18a848" stroke="#18a848" stroke-width="0.25" textLength="32.3" lengthAdjust="spacingAndGlyphs" xml:space="preserve">74.53</text>
<text x="285.7" y="660.4" font-family='"Liberation Serif", serif' font-size="14.4" fill="#ef7a2a" stroke="#ef7a2a" stroke-width="0.25" textLength="33.0" lengthAdjust="spacingAndGlyphs" xml:space="preserve">78.60</text>
<text x="1703.0" y="656.6" font-family='"Liberation Serif", serif' font-size="11.8" fill="#111" stroke="#111" stroke-width="0.25" textLength="32.3" lengthAdjust="spacingAndGlyphs" xml:space="preserve">100.00</text>
<rect x="1691" y="661.1" width="41.5" height="3.4" fill="#ef8a3a"/>
<rect x="1691" y="664.5" width="41.5" height="20.3" fill="#16a74a"/>
<text x="1701.3" y="677.3" font-family='"Liberation Serif", serif' font-size="12" fill="#fff" stroke="#fff" stroke-width="0.25" font-weight="bold" textLength="26.7" lengthAdjust="spacingAndGlyphs" xml:space="preserve">74.53</text>
<text x="1702.0" y="700.3" font-family='"Liberation Serif", serif' font-size="11.8" fill="#111" stroke="#111" stroke-width="0.25" textLength="27.3" lengthAdjust="spacingAndGlyphs" xml:space="preserve">50.00</text>
<text x="1701.3" y="743.8" font-family='"Liberation Serif", serif' font-size="11.8" fill="#111" stroke="#111" stroke-width="0.25" textLength="22.1" lengthAdjust="spacingAndGlyphs" xml:space="preserve">0.00</text>
<text x="38.4" y="766.8" text-anchor="middle" font-family='"Liberation Serif", serif' font-size="12" fill="#111">Nov '23</text>
<text x="139.4" y="766.8" text-anchor="middle" font-family='"Liberation Serif", serif' font-size="12" fill="#111">Jan '24</text>
<text x="253.1" y="766.8" text-anchor="middle" font-family='"Liberation Serif", serif' font-size="12" fill="#111">Mar '24</text>
<text x="366.7" y="766.8" text-anchor="middle" font-family='"Liberation Serif", serif' font-size="12" fill="#111">May '24</text>
<text x="467.8" y="766.8" text-anchor="middle" font-family='"Liberation Serif", serif' font-size="12" fill="#111">Jul '24</text>
<text x="581.4" y="766.8" text-anchor="middle" font-family='"Liberation Serif", serif' font-size="12" fill="#111">Sep '24</text>
<text x="695.1" y="766.8" text-anchor="middle" font-family='"Liberation Serif", serif' font-size="12" fill="#111">Nov '24</text>
<text x="808.8" y="766.8" text-anchor="middle" font-family='"Liberation Serif", serif' font-size="12" fill="#111">Jan '25</text>
<text x="909.8" y="766.8" text-anchor="middle" font-family='"Liberation Serif", serif' font-size="12" fill="#111">Mar '25</text>
<text x="1023.5" y="766.8" text-anchor="middle" font-family='"Liberation Serif", serif' font-size="12" fill="#111">May '25</text>
<text x="1137.2" y="766.8" text-anchor="middle" font-family='"Liberation Serif", serif' font-size="12" fill="#111">Jul '25</text>
<text x="1238.2" y="766.8" text-anchor="middle" font-family='"Liberation Serif", serif' font-size="12" fill="#111">Sep '25</text>
<text x="1351.9" y="766.8" text-anchor="middle" font-family='"Liberation Serif", serif' font-size="12" fill="#111">Nov '25</text>
<text x="1465.5" y="766.8" text-anchor="middle" font-family='"Liberation Serif", serif' font-size="12" fill="#111">Jan '26</text>
<text x="1566.6" y="766.8" text-anchor="middle" font-family='"Liberation Serif", serif' font-size="12" fill="#111">Mar '26</text>
<text x="1680.2" y="766.8" text-anchor="middle" font-family='"Liberation Serif", serif' font-size="12" fill="#111">May '26</text>
<text x="5.0" y="790.2" font-family='"Liberation Sans", sans-serif' font-size="9.9" fill="#1e1e1e" stroke="#1e1e1e" stroke-width="0.25" textLength="245.8" lengthAdjust="spacingAndGlyphs" xml:space="preserve">Generated by cmdtyView, March 29th 2026, 2:58:28 pm</text>
</svg>
</body></html>
